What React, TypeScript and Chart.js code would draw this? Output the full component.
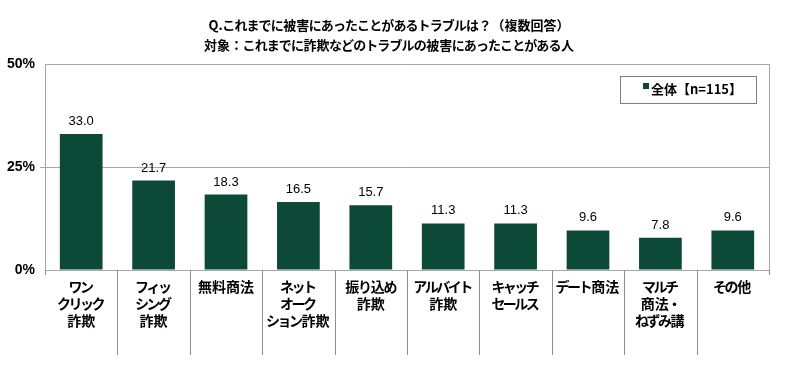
import React, { useEffect, useRef } from "react";
import { Chart, registerables } from "chart.js";

Chart.register(...registerables);

const titleLines = [
  "Q.これまでに被害にあったことがあるトラブルは？（複数回答）",
  "対象：これまでに詐欺などのトラブルの被害にあったことがある人",
];
const seriesName = "全体【n=115】";
const categories: string[][] = [
  ["ワン", "クリック", "詐欺"],
  ["フィッ", "シング", "詐欺"],
  ["無料商法"],
  ["ネット", "オーク", "ション詐欺"],
  ["振り込め", "詐欺"],
  ["アルバイト", "詐欺"],
  ["キャッチ", "セールス"],
  ["デート商法"],
  ["マルチ", "商法・", "ねずみ講"],
  ["その他"],
];
const values = [33.0, 21.7, 18.3, 16.5, 15.7, 11.3, 11.3, 9.6, 7.8, 9.6];
const yTicks = [0, 25, 50];

const BAR = "#0c4a37";
const GRID = "#a6a6a6";
const JP = "'Noto Sans CJK JP', sans-serif";
const NUM = "'Liberation Sans', Arial, sans-serif";

const KANA = /[\u3040-\u30ff]/;

// draw text centred at cx with kana advanced more tightly (proportional look)
function drawTight(ctx: CanvasRenderingContext2D, text: string, cx: number, y: number, kana: number) {
  const chars = Array.from(text);
  const widths = chars.map((ch) => ctx.measureText(ch).width * (KANA.test(ch) ? kana : 1));
  const total = widths.reduce((a, b) => a + b, 0);
  let x = cx - total / 2;
  ctx.textAlign = "center";
  chars.forEach((ch, i) => {
    ctx.fillText(ch, x + widths[i] / 2, y);
    x += widths[i];
  });
}

const decorPlugin = {
  id: "decor",
  beforeDatasetsDraw(chart: any) {
    const { ctx, chartArea } = chart;
    ctx.save();
    ctx.strokeStyle = GRID;
    ctx.lineWidth = 1;
    ctx.beginPath();
    ctx.moveTo(Math.round(chartArea.right) + 0.5, chartArea.top);
    ctx.lineTo(Math.round(chartArea.right) + 0.5, chartArea.bottom);
    ctx.stroke();
    ctx.restore();
  },
  afterDraw(chart: any) {
    const { ctx, chartArea, scales } = chart;
    const x = scales.x;
    ctx.save();
    // category separators
    ctx.strokeStyle = "#8f8f8f";
    ctx.lineWidth = 1;
    const n = categories.length;
    for (let i = 0; i <= n; i++) {
      let px: number;
      if (i === 0) px = chartArea.left;
      else if (i === n) px = chartArea.right;
      else px = (x.getPixelForValue(i - 1) + x.getPixelForValue(i)) / 2;
      px = Math.round(px) + 0.5;
      const len = i === 0 || i === n ? 5 : 85;
      ctx.beginPath();
      ctx.moveTo(px, chartArea.bottom);
      ctx.lineTo(px, chartArea.bottom + len);
      ctx.stroke();
    }
    // category labels
    ctx.fillStyle = "#000";
    ctx.font = `bold 14px ${JP}`;
    ctx.textBaseline = "middle";
    categories.forEach((lines, i) => {
      const cx = x.getPixelForValue(i);
      lines.forEach((line, j) => {
        drawTight(ctx, line, cx, chartArea.bottom + 17 + j * 17, 0.82);
      });
    });
    // value labels
    const meta = chart.getDatasetMeta(0);
    ctx.font = `13px ${NUM}`;
    ctx.textAlign = "center";
    ctx.textBaseline = "alphabetic";
    meta.data.forEach((bar: any, i: number) => {
      ctx.fillText(values[i].toFixed(1), bar.x, bar.y - 9);
    });
    // title
    ctx.font = `bold 13px ${JP}`;
    ctx.textBaseline = "middle";
    drawTight(ctx, titleLines[0], 389, 25, 0.93);
    drawTight(ctx, titleLines[1], 389, 45, 0.93);
    // legend
    ctx.strokeStyle = "#7f7f7f";
    ctx.fillStyle = "#fff";
    ctx.fillRect(620, 76, 136, 27);
    ctx.strokeRect(620.5, 76.5, 136, 27);
    ctx.fillStyle = BAR;
    ctx.fillRect(643, 83, 6, 6);
    ctx.fillStyle = "#000";
    ctx.textAlign = "left";
    ctx.fillText(seriesName, 651, 89.5);
    ctx.restore();
  },
};

export default function App() {
  const ref = useRef<HTMLCanvasElement>(null);
  useEffect(() => {
    document.body.style.margin = "0";
    const chart = new Chart(ref.current!, {
      type: "bar",
      data: {
        labels: categories,
        datasets: [
          {
            label: seriesName,
            data: values,
            backgroundColor: BAR,
            barPercentage: 0.59,
            categoryPercentage: 1,
          },
        ],
      },
      options: {
        responsive: false,
        animation: false,
        layout: { padding: { left: 0, right: 31, top: 64, bottom: 0 } },
        plugins: {
          legend: { display: false },
          title: { display: false },
          tooltip: { enabled: false },
        },
        scales: {
          x: {
            grid: { display: false },
            border: { display: true, color: GRID },
            ticks: { display: false },
            afterFit(scale: any) {
              scale.height = 109;
            },
          },
          y: {
            min: 0,
            max: 50,
            afterBuildTicks(scale: any) {
              scale.ticks = yTicks.map((v) => ({ value: v }));
            },
            grid: {
              color: GRID,
              tickLength: 5,
              tickColor: (c: any) => (c.tick && c.tick.value === 25 ? GRID : "rgba(0,0,0,0)"),
            },
            border: { display: true, color: GRID },
            ticks: {
              padding: 5,
              color: "#000",
              font: { family: NUM, size: 14, weight: "bold" },
              callback: (v: any) => `${v}%`,
            },
            afterFit(scale: any) {
              scale.width = 45;
            },
          },
        },
      },
      plugins: [decorPlugin],
    });
    return () => chart.destroy();
  }, []);
  return <canvas ref={ref} width={800} height={379} style={{ display: "block" }} />;
}
